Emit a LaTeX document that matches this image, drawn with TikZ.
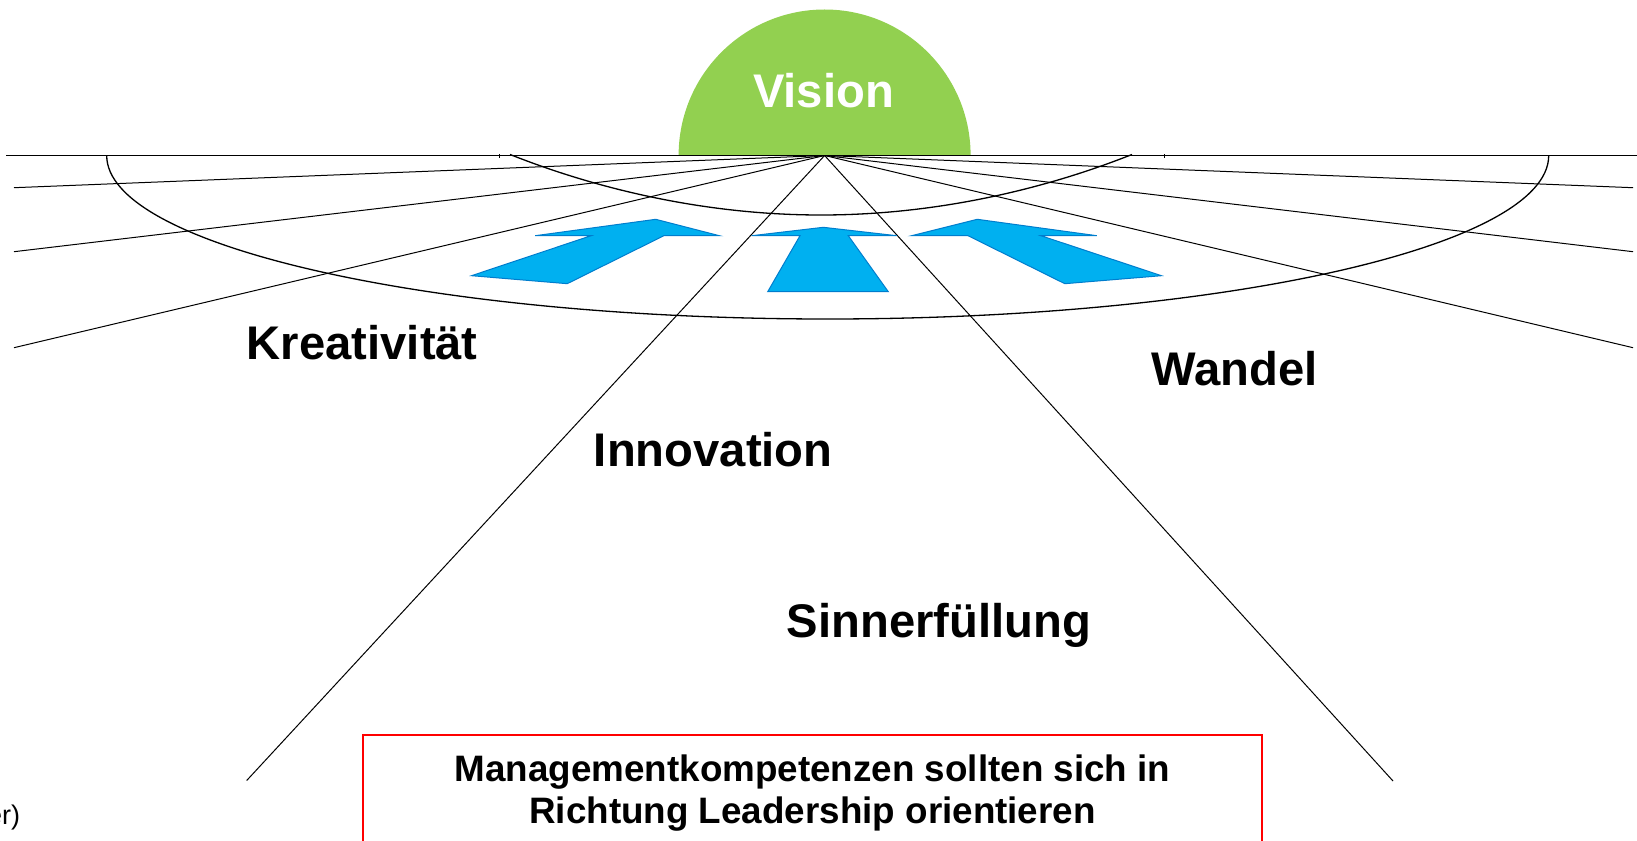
\documentclass[tikz,border=0pt]{standalone}
\usepackage{fontspec}
\setmainfont{Liberation Sans}
\definecolor{visiongreen}{RGB}{146,208,80}
\definecolor{arrowfill}{RGB}{0,176,240}
\definecolor{arrowedge}{RGB}{0,125,205}
\begin{document}
\begin{tikzpicture}[x=0.5pt,y=-0.5pt,
  ray/.style={draw=black, line width=0.5pt},
  guide/.style={draw=black, line width=0.65pt},
  bigword/.style={font=\fontsize{23.6}{28}\selectfont\bfseries, inner sep=0pt, anchor=base},
  msgline/.style={font=\fontsize{18.4}{22}\selectfont\bfseries, inner sep=0pt, anchor=base},
  bluearrow/.style={fill=arrowfill, draw=arrowedge, line width=0.5pt, line join=miter},
  redbox/.style={draw=red, line width=1pt, minimum width=449.5pt, minimum height=62.5pt, inner sep=0pt}]
\useasboundingbox (0,0) rectangle (1637,840);
\clip (0,0) rectangle (1637,840);

% Vision half disc
\fill[visiongreen] (678.6,155.5) arc[start angle=180, end angle=360, radius=146] -- cycle;
\node[bigword, text=white] (vision) at (823.5,107.7) {Vision};

% horizon
\coordinate (hl) at (6,155.5);
\coordinate (hr) at (1637,155.5);
\draw[guide] (hl) -- (hr);
\draw[line width=0.4pt] (499.3,154.3) -- (499.3,157.5);
\draw[line width=0.4pt] (1164,154.3) -- (1164,157.5);

% arcs
\draw[guide] (106.7,155.5) arc[start angle=180, end angle=0, x radius=721, y radius=163.5];
\draw[guide] (510,154.5) parabola bend (821,215) (1132,154.5);

% rays
\coordinate (apex) at (824.6,155.5);
\coordinate (l1) at (14,187.7);
\coordinate (l2) at (14,251.7);
\coordinate (l3) at (14,347.7);
\coordinate (l4) at (246.7,780.5);
\coordinate (r1) at (1633,187.7);
\coordinate (r2) at (1633,251.7);
\coordinate (r3) at (1633,347.7);
\coordinate (r4) at (1393,781);
\foreach \e in {l1,l2,l3,l4,r1,r2,r3,r4} \draw[ray] (apex) -- (\e);

% blue arrows
\path[bluearrow] (655.7,219.3) -- (719.4,235.7) -- (663.9,235.7) -- (567.2,283.7)
  -- (471.5,275.7) -- (591.1,235.7) -- (535.2,235.7) -- cycle;
\path[bluearrow] (823.3,227.3) -- (896.7,235.7) -- (848.3,235.7) -- (888.3,291.7)
  -- (767.7,291.7) -- (800,235.7) -- (751.7,235.7) -- cycle;
\path[bluearrow] (977.3,219.3) -- (911.7,235.7) -- (968,235.7) -- (1064.8,283.7)
  -- (1161.5,275.7) -- (1040.9,235.7) -- (1096.9,235.7) -- cycle;

% words
\node[bigword] (kreativ) at (362.3,359.5) {Kreativität};
\node[bigword] (wandel) at (1234.6,385) {Wandel};
\node[bigword] (innov) at (713.2,466.7) {Innovation};
\node[bigword] (sinn) at (938.8,637.3) {Sinnerfüllung};

% message box
\node[redbox] (box) at (812.5,797.5) {};
\node[msgline] (msg1) at (812.5,781.7) {Managementkompetenzen sollten sich in};
\node[msgline] (msg2) at (812.5,823.3) {Richtung Leadership orientieren};

% cut-off source note
\node[font=\fontsize{13.5}{16}\selectfont, inner sep=0pt, anchor=base east] (note) at (20.5,824) {er)};
\end{tikzpicture}
\end{document}
